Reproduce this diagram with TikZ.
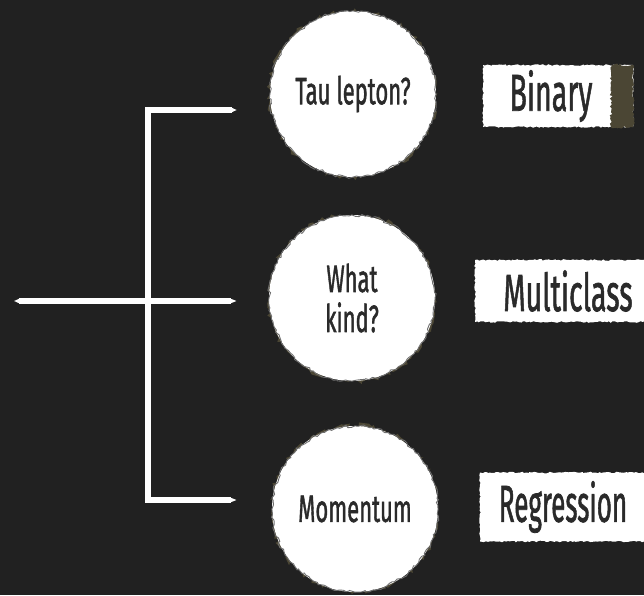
\documentclass[tikz,border=0pt]{standalone}
\usepackage{fontspec}
\setmainfont{Fira Sans}[FakeBold=1.6]
\usepackage{tikz}
\usetikzlibrary{arrows.meta, positioning, decorations.pathmorphing}

\definecolor{board}{HTML}{212121}
\definecolor{ink}{HTML}{2A2A2A}
\definecolor{smudge}{HTML}{4B4634}
\definecolor{rim}{HTML}{6E6E6E}
\newcommand{\hand}[2][0.58]{\scalebox{#1}[1]{#2}}

\begin{document}
\pgfmathsetseed{11}
\begin{tikzpicture}[x=1pt, y=-1pt,
bubble/.style={circle, minimum size=166pt, inner sep=0pt, fill=white, text=ink,
  font=\fontsize{38}{44}\selectfont, align=center,
  preaction={fill=smudge, decorate, decoration={random steps, segment length=4pt, amplitude=3.5pt}},
  postaction={draw=rim, line width=0.9pt, decorate, decoration={random steps, segment length=3pt, amplitude=1.5pt}}},
tag/.style={rectangle, inner sep=0pt, fill=white, text=ink, font=\fontsize{52}{56}\selectfont,
  decorate, decoration={random steps, segment length=2pt, amplitude=0.8pt}},
wire/.style={draw=white, line width=5.5pt, line join=miter,
  {Triangle[width=4pt,length=5pt]}-{Triangle[width=4pt,length=6pt]}}]

\useasboundingbox (0,0) rectangle (644,595);
\fill[board] (0,0) rectangle (644,595);
\clip (0,0) rectangle (644,595);

% questions
\node[bubble] (tau) at (353,94) {\hand{Tau lepton?}};
\node[bubble] (kind) at (352,298) {\hand{What}\\[-4pt]\hand{kind?}};
\node[bubble] (mom) at (355,509) {\hand{Momentum}};

% tasks
\node[tag, minimum width=150pt, minimum height=62pt] (bin) at (558,96) {\hand[0.55]{Binary}\hspace*{14pt}};
\node[tag, minimum width=186pt, minimum height=62pt] (multi) at (568,291) {\hand[0.55]{Multiclass}};
\node[tag, minimum width=166pt, minimum height=69pt] (reg) at (563,507) {\hand[0.5]{Regression}};
\fill[smudge, decorate, decoration={random steps, segment length=2pt, amplitude=1.5pt}]
  ([xshift=-22pt]bin.north east) rectangle (bin.south east);

% bracket
\coordinate (root) at (14,301);
\coordinate (jn) at (148,301);
\coordinate[below left=16pt and 33pt of tau.west] (e1);
\coordinate[below left=3pt and 32pt of kind.west] (e2);
\coordinate[above left=9pt and 35pt of mom.west] (e3);

\draw[wire] (e1) -- (e1 -| jn) -- (e3 -| jn) -- (e3);
\draw[wire] (root) -- (e2);

\end{tikzpicture}
\end{document}
